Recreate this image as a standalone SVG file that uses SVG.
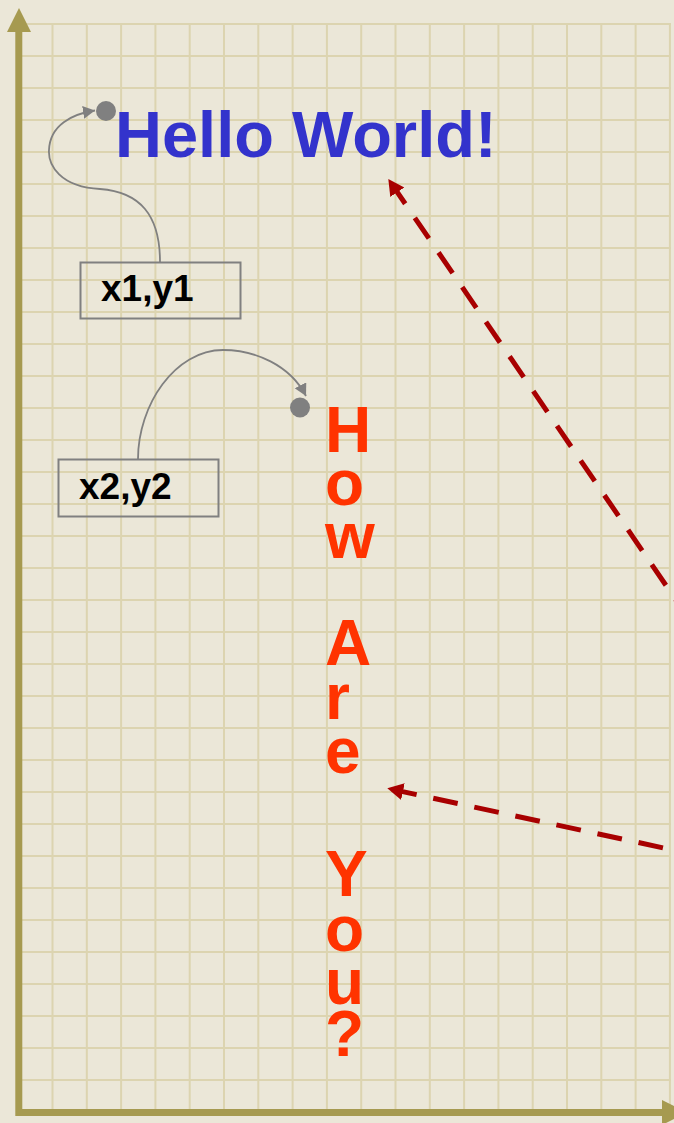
<svg xmlns="http://www.w3.org/2000/svg" width="674" height="1123" viewBox="0 0 674 1123">
<style>
.grid{fill:none;stroke:#DCD4B0;stroke-width:2}
.axis{fill:none;stroke:#A69A50;stroke-width:7}
.axhead{fill:#A69A50}
.hello{font-family:"Liberation Sans",Arial,sans-serif;font-weight:bold;font-size:65px;fill:#3333CC}
.how{font-family:"Liberation Sans",Arial,sans-serif;font-weight:bold;font-size:64px;fill:#FF3300}
.lbl{font-family:"Liberation Sans",Arial,sans-serif;font-weight:bold;font-size:37px;fill:#000}
.box{fill:none;stroke:#808080;stroke-width:2}
.dot{fill:#808080}
.curve{fill:none;stroke:#808080;stroke-width:1.8;marker-end:url(#grayHead)}
.dash{fill:none;stroke:#A80000;stroke-width:5;stroke-dasharray:25 17;stroke-dashoffset:37;marker-start:url(#redHead)}
</style>
<defs>
<marker id="grayHead" markerUnits="userSpaceOnUse" markerWidth="14" markerHeight="14" refX="12" refY="6.5" orient="auto" viewBox="0 0 14 14"><path d="M0,0 L12,6.5 L0,13 z" fill="#808080"/></marker>
<marker id="redHead" markerUnits="userSpaceOnUse" markerWidth="18" markerHeight="18" refX="16" refY="8.5" orient="auto-start-reverse" viewBox="0 0 18 18"><path d="M0,0 L16,8.5 L0,17 z" fill="#A80000"/></marker>
</defs>
<rect x="0" y="0" width="674" height="1123" fill="#EBE7D8"/>
<g id="grid">
<path class="grid" d="M52.5,24V1109M86.8,24V1109M121.1,24V1109M155.4,24V1109M189.7,24V1109M224,24V1109M258.3,24V1109M292.6,24V1109M326.9,24V1109M361.2,24V1109M395.5,24V1109M429.8,24V1109M464.1,24V1109M498.4,24V1109M532.7,24V1109M567,24V1109M601.3,24V1109M635.6,24V1109M669.9,24V1109"/>
<path class="grid" d="M22,24H671M22,56H671M22,88H671M22,120H671M22,152H671M22,184H671M22,216H671M22,248H671M22,280H671M22,312H671M22,344H671M22,376H671M22,408H671M22,440H671M22,472H671M22,504H671M22,536H671M22,568H671M22,600H671M22,632H671M22,664H671M22,696H671M22,728H671M22,760H671M22,792H671M22,824H671M22,856H671M22,888H671M22,920H671M22,952H671M22,984H671M22,1016H671M22,1048H671M22,1080H671"/>
</g>
<g id="axes">
<path class="axis" d="M18.8,30V1112.5H664"/>
<polygon class="axhead" points="7,32 31,32 19,8"/>
<polygon class="axhead" points="662,1100 662,1125 687,1112.5"/>
</g>
<g id="connectors">
<path class="curve" d="M160,262 C160,215 140,192 100,189 C60,187 48,165 49,150 C50,125 72,114 95,110.5"/>
<path class="curve" d="M138,459 C138,405 175,350 223,350 C255,350 290,365 306,396"/>
<path class="dash" d="M388.3,179 L704,641"/>
<path class="dash" d="M387.3,788.3 L710,858"/>
</g>
<g id="hello-world"><text class="hello" x="115" y="157">Hello World!</text></g>
<g id="dot1"><circle class="dot" cx="106" cy="111" r="10"/></g>
<g id="dot2"><circle class="dot" cx="300" cy="407.5" r="10"/></g>
<g id="box-x1y1"><rect class="box" x="80.5" y="262.5" width="160" height="56"/><text class="lbl" x="101" y="300.5">x1,y1</text></g>
<g id="box-x2y2"><rect class="box" x="58.5" y="459.5" width="160" height="57"/><text class="lbl" x="79" y="498.5">x2,y2</text></g>
<g id="how-are-you">
<text class="how"><tspan x="325" y="452">H</tspan><tspan x="325" y="505">o</tspan><tspan x="325" y="558">w</tspan><tspan x="325" y="665">A</tspan><tspan x="325" y="719">r</tspan><tspan x="325" y="773">e</tspan><tspan x="325" y="896">Y</tspan><tspan x="325" y="951">o</tspan><tspan x="325" y="1004">u</tspan><tspan x="325" y="1056">?</tspan></text>
</g>
</svg>
